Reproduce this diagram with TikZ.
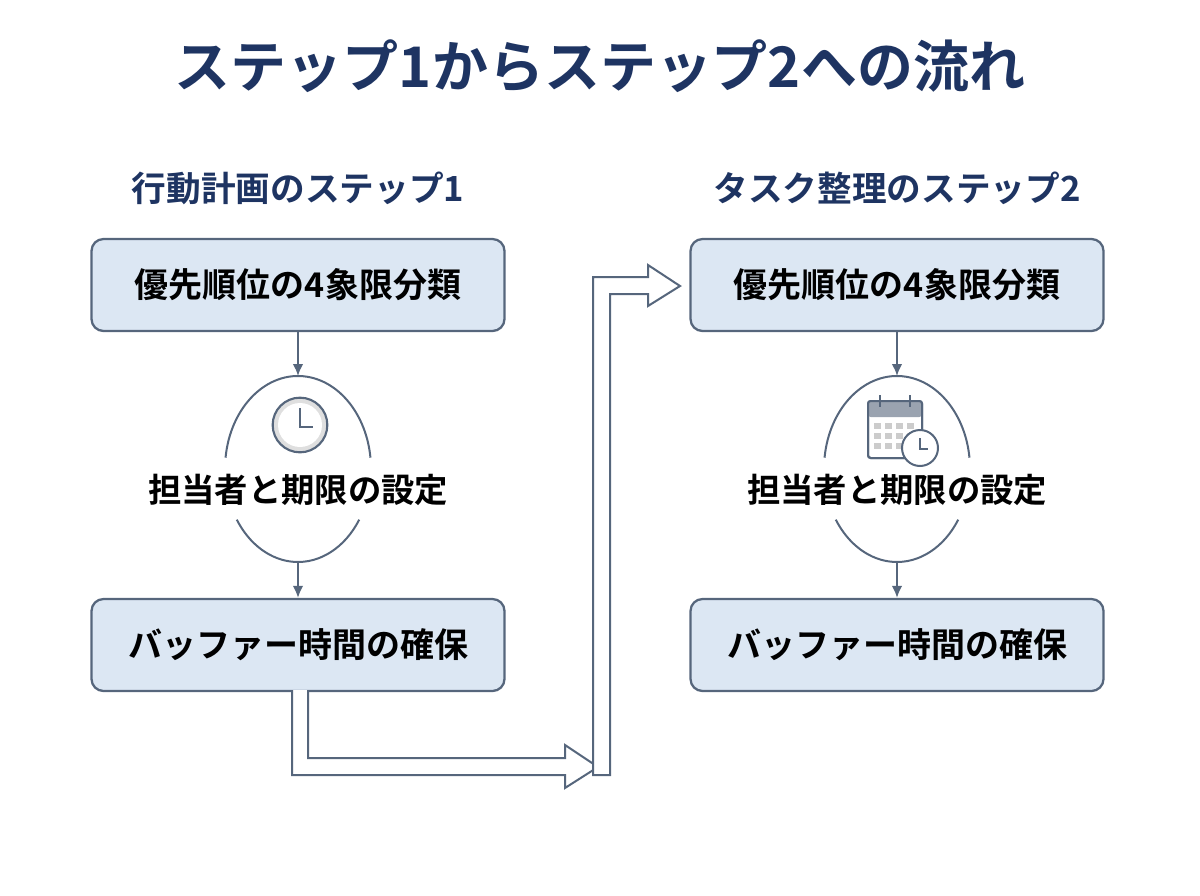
\documentclass[tikz,border=0pt]{standalone}
\usepackage{fontspec}
\usetikzlibrary{arrows.meta}
\newfontfamily\jp{Noto Sans CJK JP}[BoldFont={Noto Sans CJK JP Bold}]
\definecolor{navy}{HTML}{1E3462}
\definecolor{edge}{HTML}{56667C}
\definecolor{boxf}{HTML}{DCE7F3}
\begin{document}
\begin{tikzpicture}[x=0.75pt,y=-0.75pt,
  box/.style={draw=edge,line width=1.7pt,fill=boxf,rounded corners=9pt,minimum width=309.75pt,minimum height=69pt,font=\jp\bfseries\fontsize{25.5}{28}\selectfont},
  lbl/.style={font=\jp\bfseries\fontsize{25}{28}\selectfont},
  hd/.style={font=\jp\bfseries\fontsize{26}{30}\selectfont,text=navy},
  arr/.style={draw=edge,line width=1.5pt,-{Latex[length=9pt,width=8pt]}},
  hol/.style={draw=edge,line width=1.5pt,fill=white,line join=miter}]
\useasboundingbox (0,0) rectangle (1200,896);
\node[font=\jp\bfseries\fontsize{42}{48}\selectfont,text=navy] (t) at (600,66) {ステップ1からステップ2への流れ};
\node[hd] (h1) at (298,188) {行動計画のステップ1};
\node[hd] (h2) at (897,188) {タスク整理のステップ2};
\foreach \cx/\s in {298/a,897/b}{
  \node[box] (\s1) at (\cx,285) {優先順位の4象限分類};
  \node[box] (\s3) at (\cx,645) {バッファー時間の確保};
  \node[lbl] (\s2) at (\cx,490) {担当者と期限の設定};
  \coordinate (\s top) at (\cx,376);
  \coordinate (\s bot) at (\cx,562);
  \draw[edge,line width=1.5pt] (\cx,469) ++(187:73 and 93) arc[start angle=187,end angle=353,x radius=73,y radius=93];
  \draw[edge,line width=1.5pt] (\cx,469) ++(33:73 and 93) arc[start angle=33,end angle=147,x radius=73,y radius=93];
  \draw[arr] (\s1) -- (\s top);
  \draw[arr] (\s bot) -- (\s3);
}
% clock icon
\node[circle,draw=edge,line width=1.6pt,fill=gray!25,minimum size=41pt,inner sep=0pt] (ck) at (300,425) {};
\node[circle,fill=white,minimum size=33pt,inner sep=0pt] (ck2) at (300,425) {};
\draw[edge,line width=1.5pt] (300,408) -- (300,427) -- (313,427);
% calendar icon
\draw[edge,line width=1.5pt,fill=white,rounded corners=2pt] (868,401) rectangle (922,458);
\fill[edge!60,rounded corners=2pt] (868,401) rectangle (922,417);
\draw[edge,line width=1.5pt,rounded corners=2pt] (868,401) rectangle (922,458);
\draw[edge,line width=2.2pt] (880,395)--(880,407) (910,395)--(910,407);
\foreach \i in {0,1,2,3}{\foreach \j in {0,1,2}{\fill[gray!40] (874+\i*11,423+\j*10) rectangle (881+\i*11,429+\j*10);}}
\node[circle,draw=edge,line width=1.5pt,fill=white,minimum size=27pt,inner sep=0pt] (cc) at (920,448) {};
\draw[edge,line width=1.3pt] (920,438) -- (920,449) -- (928,449);
% hollow arrows
\draw[hol] (292,690) -- (292,775) -- (565,775) -- (565,788) -- (598,767) -- (565,745) -- (565,758) -- (308,758) -- (308,690);
\draw[hol] (593,775) -- (593,277) -- (648,277) -- (648,265) -- (680,286) -- (648,306) -- (648,294) -- (610,294) -- (610,775) -- cycle;
\end{tikzpicture}
\end{document}
